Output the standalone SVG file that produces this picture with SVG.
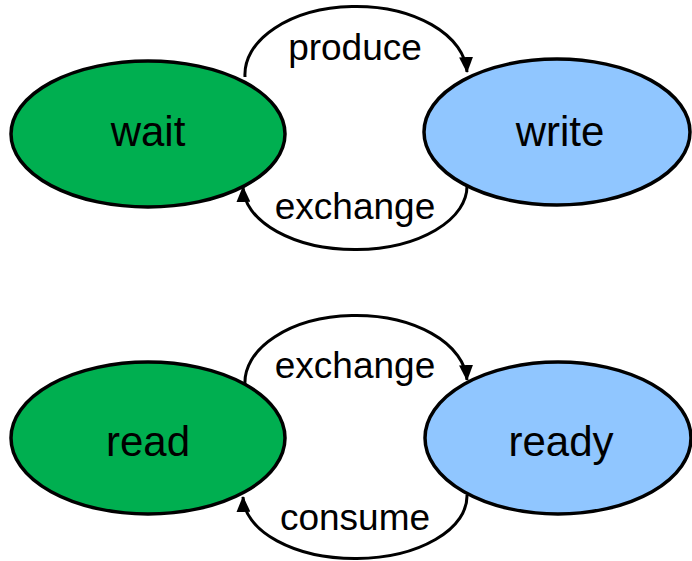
<svg xmlns="http://www.w3.org/2000/svg" width="692" height="561" viewBox="0 0 692 561">
  <style>
    .state { stroke: #000; stroke-width: 3.5; }
    .active { fill: #00AF50; }
    .passive { fill: #90C6FF; }
    .node-label { font-family: "Liberation Sans", Arial, sans-serif; font-size: 42px; fill: #000; text-anchor: middle; }
    .edge { fill: none; stroke: #000; stroke-width: 3; }
    .edge-label { font-family: "Liberation Sans", Arial, sans-serif; font-size: 37px; fill: #000; text-anchor: middle; }
  </style>
  <defs>
    <marker id="arrow" viewBox="0 0 16 14" refX="15" refY="7" markerWidth="16" markerHeight="14" markerUnits="userSpaceOnUse" orient="auto">
      <path d="M0,0 L16,7 L0,14 Z" fill="#000"/>
    </marker>
  </defs>

  <rect width="692" height="561" fill="#fff"/>

  <!-- transitions: half-ellipse arcs between each pair of states -->
  <g id="connectors">
    <path class="edge" d="M245,77 A111,68 0 0 1 467,72" marker-end="url(#arrow)"/>
    <path class="edge" d="M467,185 A111,63 0 0 1 243,187" marker-end="url(#arrow)"/>
    <path class="edge" d="M245,385 A111,67 0 0 1 467,380" marker-end="url(#arrow)"/>
    <path class="edge" d="M467,495 A111,62 0 0 1 243,497" marker-end="url(#arrow)"/>
    <text class="edge-label" x="355" y="60">produce</text>
    <text class="edge-label" x="355" y="219">exchange</text>
    <text class="edge-label" x="355" y="378">exchange</text>
    <text class="edge-label" x="355" y="530">consume</text>
  </g>

  <!-- states -->
  <g id="wait">
    <ellipse class="state active" cx="148" cy="134" rx="137" ry="73"/>
    <text class="node-label" x="148" y="146">wait</text>
  </g>
  <g id="write">
    <ellipse class="state passive" cx="557" cy="132" rx="133" ry="73"/>
    <text class="node-label" x="560" y="146">write</text>
  </g>
  <g id="read">
    <ellipse class="state active" cx="148" cy="438" rx="137" ry="76"/>
    <text class="node-label" x="148" y="456">read</text>
  </g>
  <g id="ready">
    <ellipse class="state passive" cx="558" cy="438" rx="133" ry="76"/>
    <text class="node-label" x="561" y="456">ready</text>
  </g>
</svg>
